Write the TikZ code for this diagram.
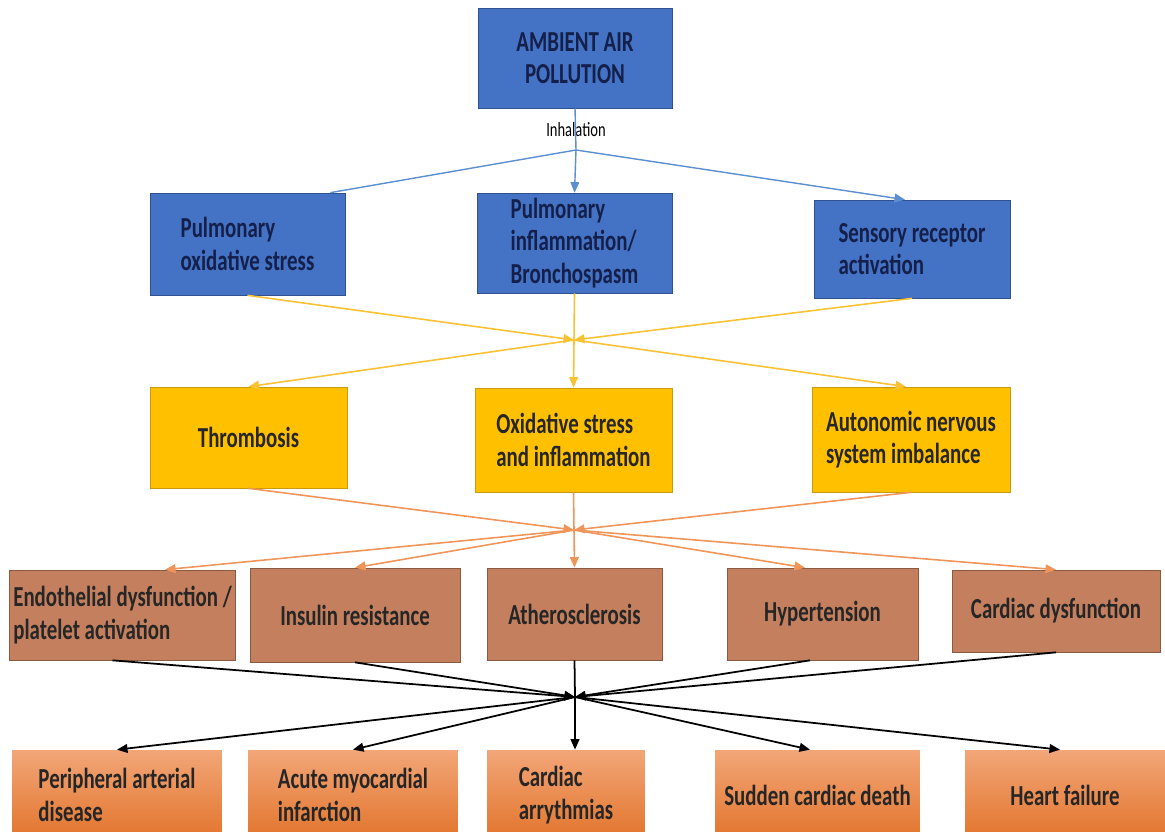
\documentclass[tikz,border=0pt]{standalone}
\usepackage{fontspec}
\setmainfont{Carlito}[FakeStretch=0.72]
\usetikzlibrary{arrows.meta}
\usetikzlibrary{positioning}

\definecolor{airblue}{HTML}{4472C4}
\definecolor{airline}{HTML}{2F528F}
\definecolor{airtext}{HTML}{14204A}
\definecolor{linkblue}{HTML}{5B8FD0}
\definecolor{mechyellow}{HTML}{FFC000}
\definecolor{mechline}{HTML}{C89A10}
\definecolor{linkyellow}{HTML}{F9C235}
\definecolor{effbrown}{HTML}{C4805E}
\definecolor{effline}{HTML}{8C5A40}
\definecolor{linkorange}{HTML}{F0955A}
\definecolor{outtop}{HTML}{F2A678}
\definecolor{outbot}{HTML}{E2742C}

\begin{document}
\begin{tikzpicture}[x=0.02cm,y=-0.02cm,
    box/.style={draw,align=left,inner sep=2pt,text=black!85,
        font=\bfseries\fontsize{16.5}{18.5}\selectfont},
    bluebox/.style={box,fill=airblue,draw=airline,text=airtext},
    yellowbox/.style={box,fill=mechyellow,draw=mechline},
    brownbox/.style={box,fill=effbrown,draw=effline},
    orangebox/.style={box,draw=none,top color=outtop,bottom color=outbot},
    tip/.style={-{Triangle[length=6pt,width=5pt]}},
    blueline/.style={draw=linkblue,line width=0.8pt},
    yellowline/.style={draw=linkyellow,line width=0.9pt},
    orangeline/.style={draw=linkorange,line width=0.9pt},
    blackline/.style={draw=black,line width=1pt}]

    \useasboundingbox (0,0) rectangle (1165,831);
    \clip (0,0) rectangle (1165,831);

    % source
    \node[bluebox,align=center,minimum width=3.88cm,minimum height=2cm] (air) at (575,58) {AMBIENT AIR\\POLLUTION};
    \node[font=\fontsize{11.5}{13}\selectfont] (inh) at (576,130) {Inhalation};

    % first effects
    \node[bluebox,minimum width=3.9cm,minimum height=2.04cm] (pos) at (247.5,244) {Pulmonary\\oxidative stress};
    \node[bluebox,minimum width=3.9cm,minimum height=2cm] (pib) at (574.5,243) {Pulmonary\\inflammation/\\Bronchospasm};
    \node[bluebox,minimum width=3.92cm,minimum height=1.96cm] (sra) at (912,249) {Sensory receptor\\activation};

    % mechanisms
    \node[yellowbox,minimum width=3.94cm,minimum height=2.02cm] (thr) at (248.5,437.5) {Thrombosis};
    \node[yellowbox,minimum width=3.94cm,minimum height=2.08cm] (osi) at (573.5,440) {Oxidative stress\\and inflammation};
    \node[yellowbox,minimum width=3.96cm,minimum height=2.1cm] (ans) at (911,439.5) {Autonomic nervous\\system imbalance};

    % intermediate effects
    \node[brownbox,minimum width=4.5cm,minimum height=1.8cm] (edp) at (122.5,615) {Endothelial dysfunction /\\platelet activation};
    \node[brownbox,minimum width=4.2cm,minimum height=1.88cm] (ins) at (355,615) {Insulin resistance};
    \node[brownbox,minimum width=3.5cm,minimum height=1.84cm] (ath) at (574.5,614) {Atherosclerosis};
    \node[brownbox,minimum width=3.82cm,minimum height=1.84cm] (hyp) at (822.5,614) {Hypertension};
    \node[brownbox,minimum width=4.16cm,minimum height=1.64cm] (cdf) at (1056,611) {Cardiac dysfunction};

    % outcomes
    \node[orangebox,minimum width=4.2cm,minimum height=1.8cm] (pad) at (117,795) {Peripheral arterial\\disease};
    \node[orangebox,minimum width=4.2cm,minimum height=1.8cm] (ami) at (353,795) {Acute myocardial\\infarction};
    \node[orangebox,minimum width=3.16cm,minimum height=1.8cm] (car) at (566,795) {Cardiac\\arrythmias};
    \node[orangebox,minimum width=4.1cm,minimum height=1.8cm] (scd) at (817.5,795) {Sudden cardiac death};
    \node[orangebox,minimum width=4cm,minimum height=1.8cm] (hf) at (1065,795) {Heart failure};

    % hubs
    \coordinate (h1) at (576,150);
    \coordinate (h2) at (574,340);
    \coordinate (h3) at (574,530);
    \coordinate (h4) at (575,697);

    \draw[blueline] (air.south) -- (h1);
    \draw[blueline] (h1) -- ([xshift=-0.3cm]pos.north east);
    \draw[blueline,tip] (h1) -- (pib.north);
    \draw[blueline,tip] (h1) -- ([xshift=-0.14cm]sra.north);

    \draw[yellowline,tip] (pos.south) -- (h2);
    \draw[yellowline] (pib.south) -- (h2);
    \draw[yellowline,tip] (sra.south) -- (h2);
    \draw[yellowline,tip] (h2) -- (thr.north);
    \draw[yellowline,tip] (h2) -- (osi.north);
    \draw[yellowline,tip] (h2) -- ([xshift=-0.1cm]ans.north);

    \draw[orangeline,tip] (thr.south) -- (h3);
    \draw[orangeline] (osi.south) -- (h3);
    \draw[orangeline,tip] (ans.south) -- (h3);
    \draw[orangeline,tip] (h3) -- ([xshift=0.85cm]edp.north);
    \draw[orangeline,tip] (h3) -- (ins.north);
    \draw[orangeline,tip] (h3) -- (ath.north);
    \draw[orangeline,tip] (h3) -- ([xshift=-0.35cm]hyp.north);
    \draw[orangeline,tip] (h3) -- (cdf.north);

    \draw[blackline,tip] ([xshift=-0.2cm]edp.south) -- (h4);
    \draw[blackline,tip] (ins.south) -- (h4);
    \draw[blackline] (ath.south) -- (h4);
    \draw[blackline,tip] ([xshift=-0.25cm]hyp.south) -- (h4);
    \draw[blackline,tip] (cdf.south) -- (h4);
    \draw[blackline,tip] (h4) -- (pad.north);
    \draw[blackline,tip] (h4) -- (ami.north);
    \draw[blackline,tip] (h4) -- (h4 |- car.north);
    \draw[blackline,tip] (h4) -- ([xshift=-0.15cm]scd.north);
    \draw[blackline,tip] (h4) -- ([xshift=-0.1cm]hf.north);

\end{tikzpicture}
\end{document}
